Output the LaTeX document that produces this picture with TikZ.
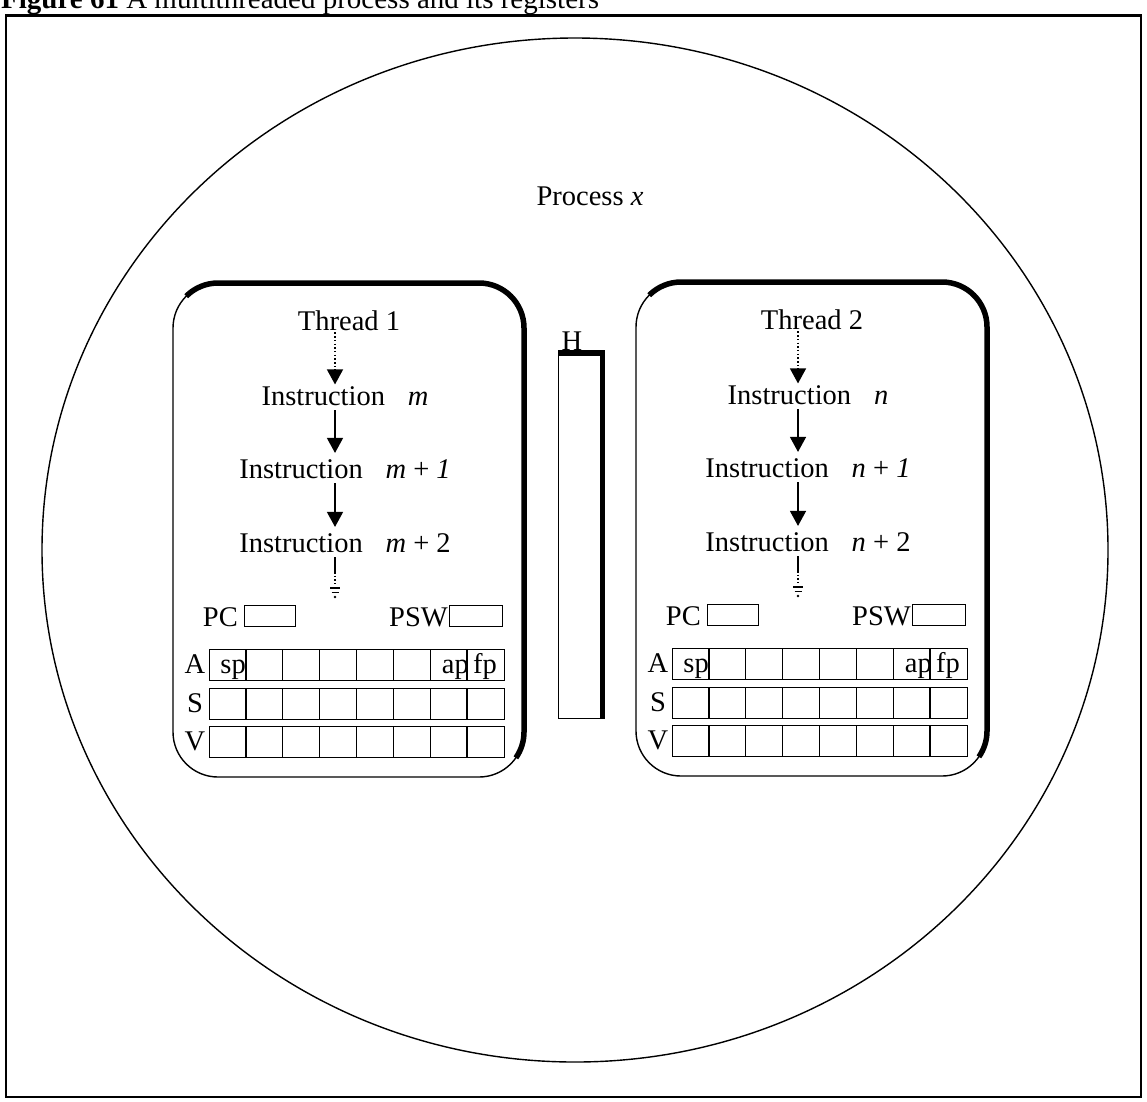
\documentclass[tikz,border=0pt]{standalone}
\usepackage{fontspec}
\setmainfont{Liberation Serif}
\usetikzlibrary{arrows.meta}

\tikzset{
  txt/.style={inner sep=0pt, font=\fontsize{28.5}{33}\selectfont},
  thinline/.style={line width=1.4pt},
  heavyline/.style={line width=5.5pt},
  regline/.style={line width=1.3pt},
  flowarrow/.style={line width=1.4pt, -{Triangle[length=15pt,width=16pt]}},
  dotline/.style={line width=1.4pt, dash pattern=on 1.5pt off 2.2pt},
  regcell/.style={draw, regline, inner sep=0pt, anchor=north west},
  % one thread: rounded panel, instruction stream and register file
  pics/threadpanel/.style 2 args={code={
    \draw[thinline, rounded corners=45pt] (0,0) rectangle (351,494);
    \draw[heavyline] (13.2,13.2) arc[start angle=135, end angle=90, radius=45pt]
      -- (306,0) arc[start angle=90, end angle=0, radius=45pt]
      -- (351,449) arc[start angle=0, end angle=-35, radius=45pt];
    \coordinate (-ax) at (162,0);
    \node[txt, anchor=base] (-title) at (176,47) {Thread #1};
    \node[txt, anchor=base] (-i1) at (172,122) {Instruction\hspace{0.8em}\textit{#2}};
    \node[txt, anchor=base] (-i2) at (172,195) {Instruction\hspace{0.8em}\textit{#2} + \textit{1}};
    \node[txt, anchor=base] (-i3) at (172,269) {Instruction\hspace{0.8em}\textit{#2} + 2};
    \draw[flowarrow, dotline, shorten <=2pt, shorten >=1.5pt] (-title.south -| -ax) -- (-i1.north -| -ax);
    \draw[flowarrow, shorten <=5pt, shorten >=6pt] (-i1.south -| -ax) -- (-i2.north -| -ax);
    \draw[flowarrow, shorten <=5pt, shorten >=6pt] (-i2.south -| -ax) -- (-i3.north -| -ax);
    % open end of the stream
    \coordinate (-mid) at (162,289);
    \coordinate (-tail) at (162,301);
    \draw[thinline, shorten <=5pt] (-i3.south -| -ax) -- (-mid);
    \draw[dotline] (-mid) -- (-tail);
    \draw[line width=1.5pt] (157,305) -- (167,305);
    \draw[line width=1.5pt] (158.5,309.5) -- (165.5,309.5);
    \fill (162,314) circle (1.3pt);
    % PC and PSW
    \node[txt, anchor=base east] (-pclbl) at (65,343) {PC};
    \node[regcell, minimum width=51pt, minimum height=21pt] (-pc) at (71,322) {};
    \node[txt, anchor=base east] (-pswlbl) at (275,343) {PSW};
    \node[regcell, minimum width=53pt, minimum height=21pt] (-psw) at (276,322) {};
    % A, S and V register rows
    \foreach \rid/\lab/\rt in {a/A/366, s/S/405, v/V/443} {
      \node[txt, anchor=base] (-\rid lbl) at (22,\rt+24) {\lab};
      \node[regcell, minimum width=295pt, minimum height=31pt] (-\rid row) at (36,\rt) {};
      \foreach \k in {1,...,7}
        \draw[regline] (36+\k*36.875,\rt) -- (36+\k*36.875,\rt+31);
    }
    \node[txt, anchor=base east] (-sp) at (73,390) {sp};
    \node[txt, anchor=base east] (-ap) at (296,390) {ap};
    \node[txt, anchor=base] (-fp) at (312,390) {fp};
  }}
}

\begin{document}
\begin{tikzpicture}[x=1pt,y=-1pt]
  \useasboundingbox (0,0) rectangle (1147,1101);

  % caption, cut by the top edge of the page
  \node[txt, anchor=base west, font=\fontsize{29}{34}\selectfont] (caption) at (1,8)
    {\textbf{Figure 61} A multithreaded process and its registers};

  % frame
  \draw[line width=2pt] (6,15) rectangle (1141,1097);
  \draw[line width=3pt] (6,15) -- (1141,15);

  % the process
  \draw[thinline] (575,550) ellipse [x radius=533pt, y radius=512pt];
  \node[txt, anchor=base] (proc) at (590,205) {Process \textit{x}};

  % the two threads
  \pic (t1) at (173,283) {threadpanel={1}{m}};
  \pic (t2) at (636,282) {threadpanel={2}{n}};

  % shared heap
  \node[draw, thinline, inner sep=0pt, anchor=north west,
        minimum width=43pt, minimum height=365pt] (hbar) at (558,353) {};
  \draw[heavyline] (hbar.north west) -- (hbar.north east) -- (hbar.south east);
  \node[txt, anchor=base] (hlabel) at (572,350) {H};
\end{tikzpicture}
\end{document}
